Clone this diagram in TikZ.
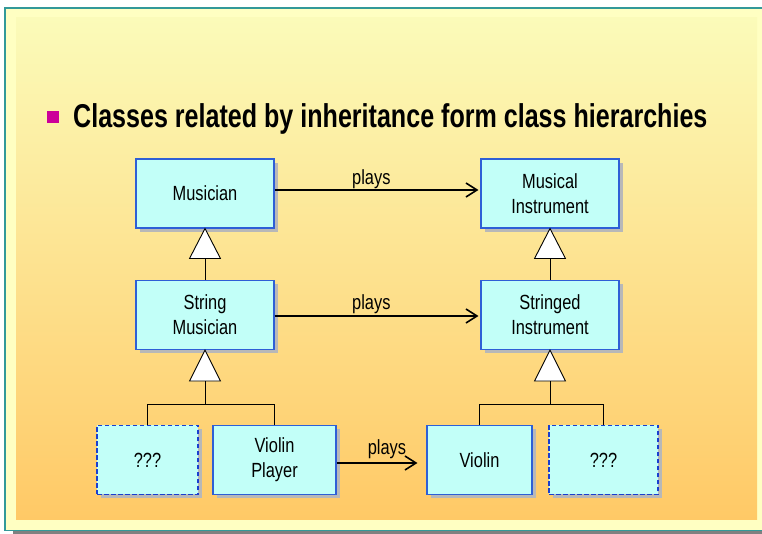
\documentclass[tikz,border=0pt]{standalone}
\usepackage{fontspec}
\setmainfont{Liberation Sans}
\newfontfamily\narrowsans{Liberation Sans}[FakeStretch=0.8]
\newfontfamily\titlesans{Liberation Sans}[FakeStretch=0.76]
\usetikzlibrary{arrows.meta,shadows}

\definecolor{frameteal}{HTML}{339999}
\definecolor{paleyellow}{HTML}{FFFFC2}
\definecolor{shadetop}{HTML}{FBFBB9}
\definecolor{shadebottom}{HTML}{FFC966}
\definecolor{boxcyan}{HTML}{C2FFF8}
\definecolor{boxblue}{HTML}{2E5FD6}
\definecolor{dashblue}{HTML}{1A3FD0}
\definecolor{bulletmag}{HTML}{CC0099}

\tikzset{
  classbox/.style={draw=boxblue, line width=1.1pt, fill=boxcyan, inner sep=0pt,
    align=center, font=\narrowsans\fontsize{20.5}{25}\selectfont,
    drop shadow={shadow xshift=4pt, shadow yshift=-4pt, fill=black!28, opacity=1}},
  upperbox/.style={classbox, minimum width=138pt, minimum height=69pt},
  lowerbox/.style={classbox, minimum height=69pt},
  unknownbox/.style={lowerbox, draw=dashblue, line width=1.8pt, dash pattern=on 4.5pt off 2.5pt},
  inherit/.style={draw=black, line width=0.9pt},
  hollowtri/.style={inherit, fill=white, line join=miter},
  plays/.style={draw=black, line width=1.6pt,
    -{Straight Barb[length=11pt,width=14pt]}},
  playslabel/.style={anchor=base, inner sep=0pt,
    font=\narrowsans\fontsize{20.5}{25}\selectfont},
}

\begin{document}
\begin{tikzpicture}[x=1pt,y=1pt]
  \useasboundingbox (0,0) rectangle (762,534);

  % slide frame and background
  \fill[white] (0,0) rectangle (762,534);
  \fill[black!50] (13,0) rectangle (762,3);
  \fill[paleyellow] (5,3.5) rectangle (762,526);
  \draw[frameteal, line width=1.5pt] (762,526) -- (5,526) -- (5,3.5) -- (762,3.5);
  \shade[top color=shadetop, bottom color=shadebottom] (16,14) rectangle (757,516);

  % heading
  \node[fill=bulletmag, minimum size=12pt, inner sep=0pt] (bullet) at (53,417) {};
  \node[anchor=base west, inner sep=0pt,
        font=\titlesans\bfseries\fontsize{33}{33}\selectfont] (heading) at (73,406)
    {Classes related by inheritance form class hierarchies};

  % class boxes
  \node[upperbox] (mus)  at (205,340.5) {Musician};
  \node[upperbox] (mi)   at (550,340.5) {Musical\\Instrument};
  \node[upperbox] (smus) at (205,219)   {String\\Musician};
  \node[upperbox] (si)   at (550,219)   {Stringed\\Instrument};

  \node[unknownbox, minimum width=101pt] (unkl) at (147.5,74) {???};
  \node[lowerbox,   minimum width=123pt] (vp)   at (274.5,74) {Violin\\Player};
  \node[lowerbox,   minimum width=105pt] (vio)  at (479.5,74) {Violin};
  \node[unknownbox, minimum width=109pt] (unkr) at (603.5,74) {???};

  % generalisation: musicians
  \draw[hollowtri] (mus.south) -- ++(-15.5,-30) -- ++(31,0) -- cycle;
  \path (mus.south) ++(0,-30) coordinate (tmus);
  \draw[inherit] (tmus) -- (smus.north);

  \draw[hollowtri] (smus.south) -- ++(-15.5,-31) -- ++(31,0) -- cycle;
  \path (smus.south) ++(0,-31) coordinate (tsmus);
  \draw[inherit] (tsmus) -- ++(0,-23) coordinate (jmus);
  \draw[inherit] (unkl.north) |- (jmus) -| (vp.north);

  % generalisation: instruments
  \draw[hollowtri] (mi.south) -- ++(-15.5,-30) -- ++(31,0) -- cycle;
  \path (mi.south) ++(0,-30) coordinate (tmi);
  \draw[inherit] (tmi) -- (si.north);

  \draw[hollowtri] (si.south) -- ++(-15.5,-31) -- ++(31,0) -- cycle;
  \path (si.south) ++(0,-31) coordinate (tsi);
  \draw[inherit] (tsi) -- ++(0,-23) coordinate (jsi);
  \draw[inherit] (vio.north) |- (jsi) -| (unkr.north);

  % "plays" associations
  \draw[plays, shorten >=2pt] ([yshift=3.5pt]mus.east) --
    node[playslabel, pos=0.47, yshift=5pt] (pl1) {plays} ([yshift=3.5pt]mi.west);
  \draw[plays, shorten >=2pt] ([yshift=-1pt]smus.east) --
    node[playslabel, pos=0.47, yshift=6pt] (pl2) {plays} ([yshift=-1pt]si.west);
  \draw[plays, shorten >=9pt] ([yshift=-3pt]vp.east) --
    node[playslabel, pos=0.56, yshift=8pt] (pl3) {plays} ([yshift=-3pt]vio.west);
\end{tikzpicture}
\end{document}
